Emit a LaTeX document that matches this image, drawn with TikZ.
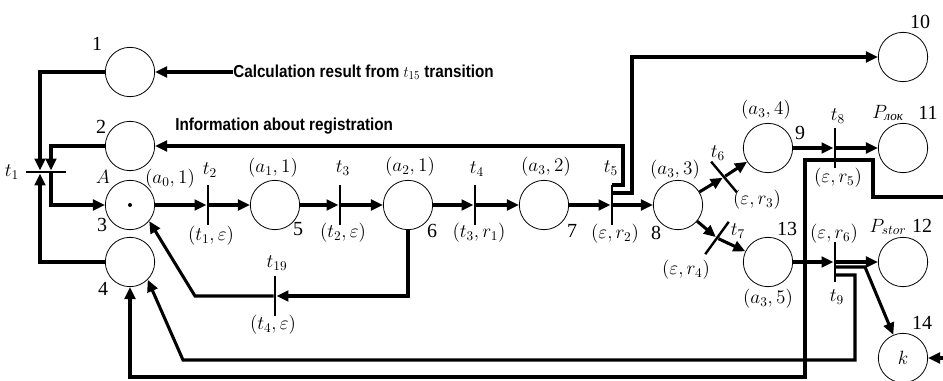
\documentclass[tikz,border=0pt]{standalone}
\usepackage{amsmath}
\usepackage{fontspec}
\setmainfont{Liberation Serif}
\newfontfamily\notefont{Liberation Sans}
\usetikzlibrary{arrows.meta}

\begin{document}
\begin{tikzpicture}[x=0.75pt,y=-0.75pt,
  place/.style={draw,circle,line width=0.6pt,minimum size=37pt,inner sep=0pt,
    font=\fontsize{14}{16}\selectfont},
  bar/.style={fill,rectangle,minimum width=1.8pt,minimum height=30pt,inner sep=0pt},
  hbar/.style={bar,minimum width=30pt,minimum height=1.8pt},
  arc/.style={line width=2.3pt,-{Triangle[length=9pt,width=8pt]}},
  lab/.style={inner sep=0pt,font=\fontsize{14}{16}\selectfont},
  num/.style={inner sep=0pt,font=\fontsize{15}{17}\selectfont},
  note/.style={inner sep=0pt,anchor=west,font=\notefont\bfseries\fontsize{13}{15}\selectfont}]
  \useasboundingbox (0,0) rectangle (943,381);
  \clip (0,0) rectangle (943,381);

  % places
  \node[place] (p1) at (130,72) {};
  \node[place] (p2) at (130,146) {};
  \node[place] (p3) at (130,205) {};
  \node[place] (p4) at (130,262) {};
  \node[place] (p5) at (275,205) {};
  \node[place] (p6) at (408,205) {};
  \node[place] (p7) at (544,205) {};
  \node[place] (p8) at (678,205) {};
  \node[place] (p9) at (768,148) {};
  \node[place] (p10) at (903,57) {};
  \node[place] (p11) at (903,148) {};
  \node[place] (p12) at (903,262) {};
  \node[place] (p13) at (768,262) {};
  \node[place] (p14) at (903,358) {$k$};
  \fill (p3) circle (1.5pt);

  % transitions
  \node[hbar] (t1) at (46,172) {};
  \node[bar] (t2) at (208,205) {};
  \node[bar] (t3) at (340,205) {};
  \node[bar] (t4) at (475,205) {};
  \node[bar] (t5) at (612,205) {};
  \node[bar,rotate=40] (t6) at (724,177) {};
  \node[bar,rotate=-36] (t7) at (717,238) {};
  \node[bar] (t8) at (835,148) {};
  \node[bar] (t9) at (835,262) {};
  \node[bar] (t19) at (275,296) {};

  % notes
  \node[note] (calc) at (233,72) {\scalebox{0.88}[1]{Calculation result from $t_{15}$ transition}};
  \node[note] (info) at (175,126) {\scalebox{0.88}[1]{Information about registration}};

  % labels
  \foreach \n/\x/\y/\s in {lt1/12/172/$t_1$, lA/103/177/$A$, la0/170/179/{$(a_0,1)$},
      lt2/210/170/$t_2$, lt2b/211/236/{$(t_1,\varepsilon)$}, la1/273/168/{$(a_1,1)$},
      lt3/343/168/$t_3$, lt3b/343/233/{$(t_2,\varepsilon)$}, la2/410/167/{$(a_2,1)$},
      lt4/477/169/$t_4$, lt4b/479/233/{$(t_3,r_1)$}, la3/546/167/{$(a_3,2)$},
      lt5/611/168/$t_5$, lt5b/615/234/{$(\varepsilon,r_2)$}, la4/675/170/{$(a_3,3)$},
      lt6/718/153/$t_6$, lt6b/757/200/{$(\varepsilon,r_3)$}, la5/766/110/{$(a_3,4)$},
      lt8/838/116/$t_8$, lt8b/838/178/{$(\varepsilon,r_5)$}, lp11/888/113/{$P_{\text{\itshape лок}}$},
      lt7/738/231/$t_7$, lt7b/686/270/{$(\varepsilon,r_4)$}, la6/768/299/{$(a_3,5)$},
      lt9b/834/234/{$(\varepsilon,r_6)$}, lt9/837/297/$t_9$, lp12/888/227/{$P_{stor}$},
      lt19/277/263/$t_{19}$, lt19b/273/325/{$(t_4,\varepsilon)$}}
    \node[lab] (\n) at (\x,\y) {\s};
  \foreach \n/\x/\y/\s in {l1/97/44/1, l2/101/127/2, l3/102/225/3, l4/103/289/4,
      l5/298/229/5, l6/432/231/6, l7/572/231/7, l8/656/233/8, l9/800/133/9,
      l10/920/22/10, l11/928/113/11, l12/922/226/12, l13/787/229/13, l14/922/323/14}
    \node[num] (\n) at (\x,\y) {\s};

  % arcs
  \foreach \a/\b in {p3/t2,t2/p5,p5/t3,t3/p6,p6/t4,t4/p7,p7/t5,t5/p8,
      p8/t6,t6/p9,p8/t7,t7/p13,p9/t8,t8/p11,p13/t9,t9/p12}
    \draw[arc] (\a) -- (\b);
  \draw[arc] (calc) -- (p1);
  \draw[arc] (p1) -| ([xshift=-4.5pt]t1.north);
  \draw[arc] (p2) -| ([xshift=3.75pt]t1.north);
  \draw[arc] (p4) -| ([xshift=-4.5pt]t1.south);
  \draw[arc] ([xshift=3.75pt]t1.south) |- (p3);
  \draw[arc] ([yshift=15pt]t5.center) -- ++(11,0) |- (p2);
  \draw[arc] ([yshift=9pt]t5.center) -- ++(20,0) |- (p10);
  \coordinate (c19) at (195,296);
  \draw[arc] (p6) |- (t19);
  \draw[arc] (t19) -- (c19) -- (p3.-40);
  % returns from t8 and t9
  \coordinate (c1) at (805,377);
  \coordinate (c2) at (873,197);
  \coordinate (c3) at (955,358);
  \draw[arc] ([yshift=-9pt]t8.center) -| (c1) -| (p4);
  \draw[arc] ([yshift=-9pt]t8.center) -| (c2) -| (c3) -- (p14);
  \coordinate (c4) at (865,267);
  \coordinate (c5) at (855,360);
  \coordinate (c6) at (183,360);
  \draw[arc] ([yshift=-3.75pt]t9.center) -- (c4) -- (p14);
  \draw[arc] ([yshift=-9.75pt]t9.center) -| (c5) -- (c6) -- (p4.-45);
\end{tikzpicture}
\end{document}
